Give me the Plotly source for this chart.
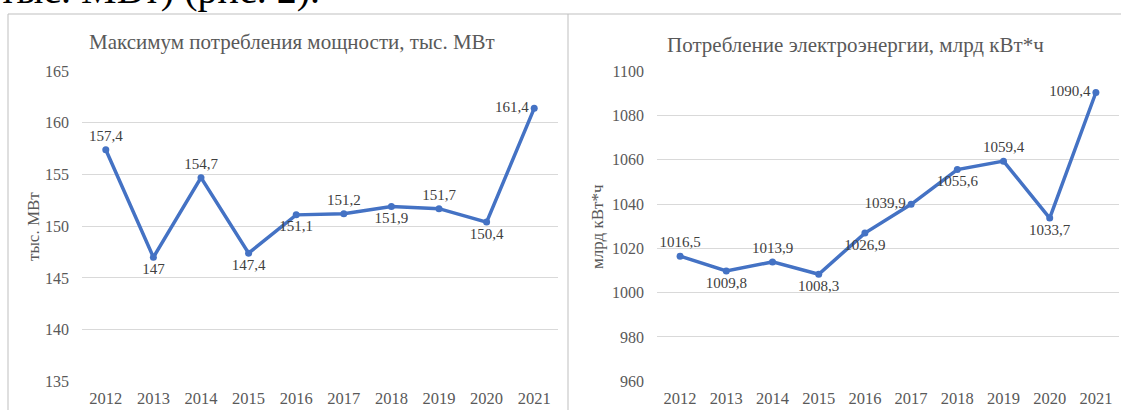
import plotly.graph_objects as go

W, H = 1121, 410

years = ["2012", "2013", "2014", "2015", "2016", "2017", "2018", "2019", "2020", "2021"]
power_max = [157.4, 147, 154.7, 147.4, 151.1, 151.2, 151.9, 151.7, 150.4, 161.4]
energy = [1016.5, 1009.8, 1013.9, 1008.3, 1026.9, 1039.9, 1055.6, 1059.4, 1033.7, 1090.4]

power_pos = ["top center", "bottom center", "top center", "bottom center", "bottom center",
             "top center", "bottom center", "top center", "bottom center", "middle left"]
energy_pos = ["top center", "bottom center", "top center", "bottom center", "bottom center",
              "middle left", "bottom center", "top center", "bottom center", "middle left"]

title_left = "Максимум потребления мощности, тыс. МВт"
title_right = "Потребление электроэнергии, млрд кВт*ч"
ylab_left = "тыс. МВт"
ylab_right = "млрд кВт*ч"
top_text = "тыс. МВт) (рис. 2)."

FONT = "Liberation Serif"
LINE = "#4472C4"
TICK = "#595959"
LBL = "#404040"
GRID = "#d9d9d9"


def fmt(v):
    return f"{v:g}".replace(".", ",")


def px(x):
    return x / W


def py(y):
    return 1 - y / H


fig = go.Figure()

fig.add_trace(go.Scatter(
    x=years, y=power_max, mode="lines+markers+text",
    text=[fmt(v) for v in power_max], textposition=power_pos,
    textfont=dict(family=FONT, size=15, color=LBL),
    line=dict(color=LINE, width=3.5), marker=dict(color=LINE, size=7),
    xaxis="x", yaxis="y", showlegend=False, cliponaxis=False, hoverinfo="skip"))

fig.add_trace(go.Scatter(
    x=years, y=energy, mode="lines+markers+text",
    text=[fmt(v) for v in energy], textposition=energy_pos,
    textfont=dict(family=FONT, size=15, color=LBL),
    line=dict(color=LINE, width=3.5), marker=dict(color=LINE, size=7),
    xaxis="x2", yaxis="y2", showlegend=False, cliponaxis=False, hoverinfo="skip"))

ydom = [py(381.5), py(71)]
xcommon = dict(type="category", range=[-0.5, 9.5], showgrid=False, showline=False,
               zeroline=False, ticks="", tickfont=dict(family=FONT, size=16.5, color=TICK),
               ticklabelstandoff=5, automargin=False, fixedrange=True)
ycommon = dict(showgrid=True, gridcolor=GRID, gridwidth=1, zeroline=False, showline=False,
               ticks="", tickfont=dict(family=FONT, size=16, color=TICK), ticklabelstandoff=12,
               automargin=False, fixedrange=True)

fig.update_layout(
    width=W, height=H, autosize=False,
    margin=dict(l=0, r=0, t=0, b=0, pad=0, autoexpand=False),
    paper_bgcolor="white", plot_bgcolor="white",
    font=dict(family=FONT),
    xaxis=dict(domain=[px(82), px(558)], anchor="y", **xcommon),
    yaxis=dict(domain=ydom, anchor="x", range=[134.99, 165.01], dtick=5, tick0=135, **ycommon),
    xaxis2=dict(domain=[px(657), px(1119)], anchor="y2", **xcommon),
    yaxis2=dict(domain=ydom, anchor="x2", range=[959.9, 1100.1], dtick=20, tick0=960, **ycommon),
)

border = dict(color="#bfbfbf", width=1)
shapes = [
    dict(type="line", xref="paper", yref="paper", x0=px(8), x1=px(8), y0=py(14), y1=-0.1, line=border),
    dict(type="line", xref="paper", yref="paper", x0=px(8), x1=px(1125), y0=py(14), y1=py(14), line=border),
    dict(type="line", xref="paper", yref="paper", x0=px(568), x1=px(568), y0=py(14), y1=-0.1, line=border),
]
fig.update_layout(shapes=shapes)

ann = [
    dict(text=title_left, x=px(292), y=py(42), xref="paper", yref="paper",
         xanchor="center", yanchor="middle", showarrow=False,
         font=dict(family=FONT, size=21, color=TICK)),
    dict(text=title_right, x=px(855), y=py(45), xref="paper", yref="paper",
         xanchor="center", yanchor="middle", showarrow=False,
         font=dict(family=FONT, size=21, color=TICK)),
    dict(text=ylab_left, x=px(33), y=py(227), xref="paper", yref="paper",
         xanchor="center", yanchor="middle", showarrow=False, textangle=-90,
         font=dict(family=FONT, size=17, color=TICK)),
    dict(text=ylab_right, x=px(597), y=py(227), xref="paper", yref="paper",
         xanchor="center", yanchor="middle", showarrow=False, textangle=-90,
         font=dict(family=FONT, size=17, color=TICK)),
    dict(text=top_text, x=px(-3), y=py(14), xref="paper", yref="paper",
         xanchor="left", yanchor="bottom", showarrow=False,
         font=dict(family=FONT, size=40, color="black")),
]
fig.update_layout(annotations=ann)

fig.write_html("out.html", config={"displayModeBar": False},
               post_script="document.body.style.margin='0';document.body.style.overflow='hidden';")
